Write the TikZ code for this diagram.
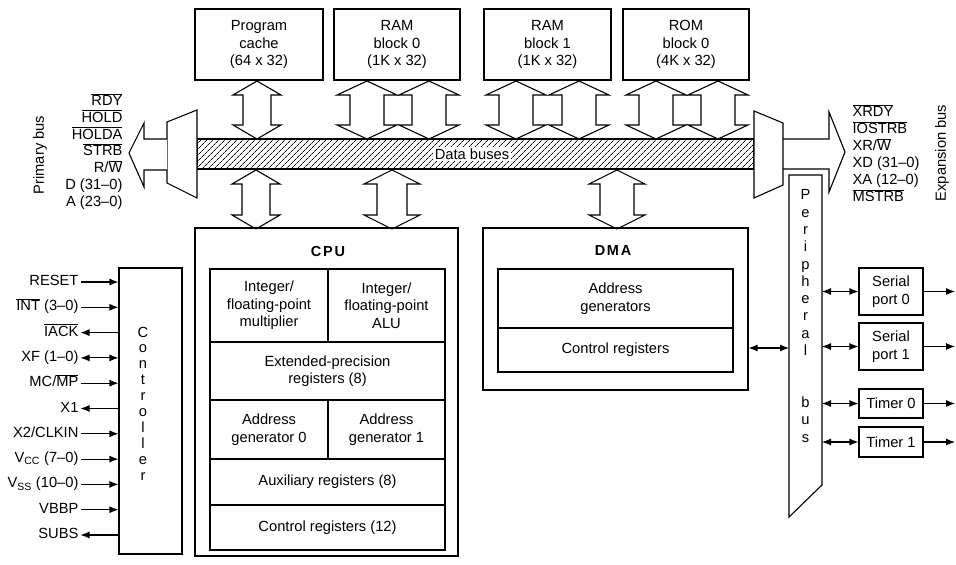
\documentclass[tikz,border=0pt]{standalone}
\usepackage{fontspec}
\setmainfont{Liberation Sans}
\usetikzlibrary{arrows.meta,patterns.meta}
\newcommand{\ovl}[1]{$\overline{\hbox{#1}}$}
\newcommand{\sbs}[1]{$_{\hbox{\fontsize{10.5}{10.5}\selectfont #1}}$}
% hollow double arrow: centre x, top tip y, bottom tip y, head half-width, shaft half-width, head height
\newcommand{\hdbl}[6]{%
  \draw[hol] (#1,#2) -- ({#1+#4},{#2+#6}) -- ({#1+#5},{#2+#6}) -- ({#1+#5},{#3-#6}) -- ({#1+#4},{#3-#6}) -- (#1,#3) -- ({#1-#4},{#3-#6}) -- ({#1-#5},{#3-#6}) -- ({#1-#5},{#2+#6}) -- ({#1-#4},{#2+#6}) -- cycle;}
\newcommand{\csig}[4]{%
  \node[lbl,anchor=east] (#1) at (79,#2) {#3};
  \draw[#4,shorten <=1.5pt] (#1.east) -- (ctrl.west |- #1.east);}
\begin{document}
\begin{tikzpicture}[x=1pt,y=-1pt,line width=1.1pt,
  txt/.style={font=\fontsize{14.7}{17.5}\selectfont},
  bx/.style={draw,fill=white,align=center,inner sep=0pt,txt},
  hol/.style={draw,fill=white,line join=miter},
  sig/.style={-{Latex[length=9pt,width=7pt]}},
  sigl/.style={{Latex[length=9pt,width=7pt]}-},
  sigb/.style={{Latex[length=9pt,width=7pt]}-{Latex[length=9pt,width=7pt]}},
  lbl/.style={txt,inner sep=0pt,text height=10pt,text depth=3pt},
  ttl/.style={font=\fontsize{14.5}{17}\selectfont\bfseries\addfontfeature{LetterSpace=12},inner sep=0pt},
]
\useasboundingbox (0,0) rectangle (956,565);

% ---------- data bus ----------
\node[draw,minimum width=557,minimum height=30,inner sep=0,
      pattern={Lines[angle=45,distance=4pt,line width=0.75pt]}] (bus) at (475.5,154) {};
\node[txt,fill=white,inner sep=1.5pt] (dbl) at (472,154) {Data buses};

% left multiplexer and primary bus arrow
\draw[fill=white] (167,122) -- (197,110) -- (197,198) -- (167,183) -- cycle;
\draw[fill=white,line join=miter] (167,139) -- (144,139) -- (144,123) -- (129,153) -- (144,187) -- (144,170) -- (167,170);
% right multiplexer and expansion bus arrow
\draw[fill=white] (754,111) -- (783,123) -- (783,185) -- (754,198) -- cycle;
\draw[line join=miter] (783,139) -- (829,139) -- (829,112) -- (845,152) -- (829,192) -- (829,169) -- (783,169);

\node[txt,rotate=90] (pbus) at (40,155) {Primary bus};
\node[txt,rotate=90] (ebus) at (942,153) {Expansion bus};

% primary bus signals
\node[lbl,anchor=east] (rdy)   at (123,102)   {\ovl{RDY}};
\node[lbl,anchor=east] (hold)  at (123,118.8) {\ovl{HOLD}};
\node[lbl,anchor=east] (holda) at (123,135.6) {\ovl{HOLDA}};
\node[lbl,anchor=east] (strb)  at (123,152.4) {\ovl{STRB}};
\node[lbl,anchor=east] (rw)    at (123,169.2) {R/\ovl{W}};
\node[lbl,anchor=east] (dd)    at (123,186)   {D (31--0)};
\node[lbl,anchor=east] (aa)    at (123,202.8) {A (23--0)};
% expansion bus signals
\node[lbl,anchor=west] (xrdy)   at (852,113) {\ovl{XRDY}};
\node[lbl,anchor=west] (iostrb) at (852,130) {\ovl{IOSTRB}};
\node[lbl,anchor=west] (xrw)    at (852,147) {XR/\ovl{W}};
\node[lbl,anchor=west] (xd)     at (852,164) {XD (31--0)};
\node[lbl,anchor=west] (xa)     at (852,181) {XA (12--0)};
\node[lbl,anchor=west] (mstrb)  at (852,198) {\ovl{MSTRB}};

% ---------- memory blocks ----------
\node[bx,minimum width=128,minimum height=71] (pc)   at (259,44.5)   {Program\\cache\\(64 x 32)};
\node[bx,minimum width=126,minimum height=71] (ram0) at (397,44.5)   {RAM\\block 0\\(1K x 32)};
\node[bx,minimum width=127,minimum height=71] (ram1) at (547.5,44.5) {RAM\\block 1\\(1K x 32)};
\node[bx,minimum width=126,minimum height=71] (rom0) at (686,44.5)   {ROM\\block 0\\(4K x 32)};

% hollow double arrows, memories <-> bus
\hdbl{257}{81}{139}{24}{14}{14}
\hdbl{367}{81}{139}{30}{17}{14}
\hdbl{429}{81}{139}{30}{17}{14}
\hdbl{516}{81}{139}{30}{17}{14}
\hdbl{579}{81}{139}{30}{17}{14}
\hdbl{656}{81}{139}{30}{17}{14}
\hdbl{718}{81}{139}{30}{17}{14}
% bus <-> CPU and DMA
\hdbl{256}{170}{229}{24}{14}{14}
\hdbl{392}{170}{229}{28}{15}{14}
\hdbl{617}{170}{229}{28}{17}{14}

% ---------- CPU ----------
\node[draw,minimum width=263,minimum height=328,inner sep=0] (cpu) at (326.5,392) {};
\node[ttl] (cput) at (328,252) {CPU};
\node[bx,minimum width=118,minimum height=73] (mul)  at (269,305.5)   {Integer/\\floating-point\\multiplier};
\node[bx,minimum width=117,minimum height=73] (alu)  at (386.5,305.5) {Integer/\\floating-point\\ALU};
\node[bx,minimum width=235,minimum height=58] (ext)  at (327.5,371)   {Extended-precision\\registers (8)};
\node[bx,minimum width=118,minimum height=59] (ag0)  at (269,429.5)   {Address\\generator 0};
\node[bx,minimum width=117,minimum height=59] (ag1)  at (386.5,429.5) {Address\\generator 1};
\node[bx,minimum width=235,minimum height=46] (aux)  at (327.5,482)   {Auxiliary registers (8)};
\node[bx,minimum width=235,minimum height=45] (creg) at (327.5,527.5) {Control registers (12)};

% ---------- DMA ----------
\node[draw,minimum width=265,minimum height=162,inner sep=0] (dma) at (615.5,309) {};
\node[ttl] (dmat) at (613,251) {DMA};
\node[bx,minimum width=235,minimum height=59] (dag)  at (615.5,298.5) {Address\\generators};
\node[bx,minimum width=235,minimum height=44] (dcr)  at (615.5,350)   {Control registers};

% ---------- peripheral bus ----------
\draw[fill=white] (789,175) -- (822,175) -- (822,485) -- (789,517) -- cycle;
\node[inner sep=0,align=center,font=\fontsize{14.7}{17.3}\selectfont] (pbt) at (805.5,316)
  {P\\e\\r\\i\\p\\h\\e\\r\\a\\l\\\mbox{}\\\mbox{}\\b\\u\\s};
\coordinate (pL) at (789,348);
\coordinate (pR) at (822,348);
\coordinate (oE) at (955,348);
\draw[sigb] (dma.east |- pL) -- (pL);

\node[bx,minimum width=64,minimum height=47] (sp0) at (891,291.5) {Serial\\port 0};
\node[bx,minimum width=64,minimum height=47] (sp1) at (891,346.5) {Serial\\port 1};
\node[bx,minimum width=64,minimum height=29] (tm0) at (891,403.5) {Timer 0};
\node[bx,minimum width=64,minimum height=30] (tm1) at (891,442)   {Timer 1};
\foreach \b in {sp0,sp1,tm0,tm1}{
  \draw[sigb] (pR |- \b.west) -- (\b.west);
  \draw[sig] (\b.east) -- (oE |- \b.east);
}

% ---------- controller ----------
\node[draw,minimum width=63,minimum height=286,inner sep=0] (ctrl) at (150.5,411) {};
\node[inner sep=0,align=center,font=\fontsize{14.7}{15.9}\selectfont] (ctt) at (143,403.5)
  {C\\o\\n\\t\\r\\o\\l\\l\\e\\r};
\csig{rst}{282}{RESET}{sig}
\csig{intr}{307.3}{\ovl{INT} (3--0)}{sig}
\csig{iack}{332.6}{\ovl{IACK}}{sigl}
\csig{xf}{357.9}{XF (1--0)}{sigb}
\csig{mcmp}{383.2}{MC/\ovl{MP}}{sig}
\csig{xone}{408.5}{X1}{sigl}
\csig{xtwo}{433.8}{X2/CLKIN}{sig}
\csig{vcc}{459.1}{V\sbs{CC} (7--0)}{sig}
\csig{vss}{484.4}{V\sbs{SS} (10--0)}{sig}
\csig{vbbp}{509.7}{VBBP}{sig}
\csig{subs}{535}{SUBS}{sigl}
\end{tikzpicture}
\end{document}
